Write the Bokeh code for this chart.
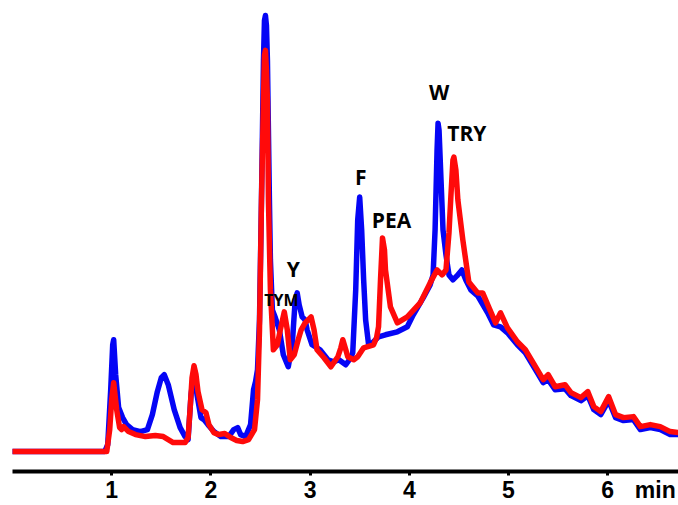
from bokeh.plotting import figure
from bokeh.models import Range1d, FixedTicker, Label
from bokeh.embed import file_html
from bokeh.resources import INLINE

# Retention time (min) and detector response (relative units)
blue_t = [0.00, 0.93, 0.96, 0.99, 1.01, 1.02, 1.04, 1.07, 1.11, 1.15, 1.21, 1.29, 1.36, 1.41, 1.46,
          1.50, 1.53, 1.57, 1.63, 1.69, 1.74, 1.77, 1.80, 1.83, 1.86, 1.90, 1.93, 1.97, 2.03, 2.10,
          2.18, 2.23, 2.27, 2.30, 2.35, 2.40, 2.43, 2.45, 2.47, 2.49, 2.51, 2.52, 2.53, 2.54, 2.55,
          2.56, 2.57, 2.58, 2.59, 2.60, 2.62, 2.65, 2.69, 2.73, 2.78, 2.82, 2.85, 2.87, 2.89, 2.92,
          2.95, 2.97, 3.02, 3.10, 3.18, 3.24, 3.29, 3.36, 3.41, 3.43, 3.46, 3.48, 3.50, 3.52, 3.54,
          3.56, 3.59, 3.63, 3.69, 3.76, 3.88, 3.98, 4.04, 4.14, 4.21, 4.24, 4.26, 4.28, 4.29, 4.30,
          4.32, 4.34, 4.37, 4.40, 4.44, 4.48, 4.53, 4.57, 4.62, 4.69, 4.79, 4.85, 4.92, 4.99, 5.09,
          5.17, 5.29, 5.35, 5.40, 5.47, 5.57, 5.63, 5.73, 5.80, 5.86, 5.93, 6.01, 6.08, 6.16, 6.26,
          6.33, 6.43, 6.53, 6.63, 6.71]
blue_signal = [0, 0, 7, 62, 107, 112, 77, 44, 34, 27, 22, 20, 22, 37, 60,
               74, 77, 67, 42, 24, 15, 12, 57, 80, 57, 34, 32, 27, 20, 15,
               15, 22, 24, 17, 15, 27, 62, 70, 82, 132, 252, 322, 392, 432, 437,
               427, 392, 322, 252, 192, 142, 134, 122, 97, 85, 107, 152, 159, 147, 135,
               132, 122, 107, 102, 92, 90, 92, 87, 94, 99, 162, 232, 255, 222, 172,
               132, 107, 109, 115, 117, 120, 125, 137, 154, 167, 177, 222, 302, 329, 322,
               272, 222, 197, 177, 172, 176, 182, 172, 162, 156, 139, 127, 125, 119, 107,
               99, 79, 69, 72, 62, 63, 56, 51, 56, 42, 37, 51, 34, 31, 32,
               22, 24, 22, 17, 17]

red_t = [0.00, 0.95, 0.98, 1.00, 1.02, 1.05, 1.08, 1.10, 1.12, 1.17, 1.24, 1.34, 1.44, 1.52, 1.57,
         1.62, 1.74, 1.77, 1.79, 1.81, 1.83, 1.85, 1.87, 1.91, 1.95, 1.98, 2.03, 2.08, 2.14, 2.20,
         2.26, 2.32, 2.38, 2.44, 2.47, 2.49, 2.51, 2.53, 2.54, 2.55, 2.56, 2.57, 2.58, 2.60, 2.63,
         2.67, 2.70, 2.74, 2.77, 2.80, 2.84, 2.88, 2.91, 2.95, 2.98, 3.01, 3.04, 3.07, 3.14, 3.21,
         3.28, 3.31, 3.33, 3.36, 3.38, 3.44, 3.48, 3.54, 3.64, 3.67, 3.69, 3.71, 3.73, 3.75, 3.76,
         3.81, 3.88, 3.98, 4.11, 4.21, 4.28, 4.33, 4.37, 4.40, 4.42, 4.44, 4.45, 4.47, 4.49, 4.54,
         4.60, 4.69, 4.74, 4.80, 4.87, 4.92, 4.99, 5.09, 5.17, 5.29, 5.35, 5.40, 5.47, 5.57, 5.63,
         5.73, 5.80, 5.86, 5.93, 6.01, 6.08, 6.16, 6.26, 6.33, 6.43, 6.53, 6.63, 6.71]
red_signal = [0, 0, 22, 52, 69, 42, 24, 22, 25, 20, 17, 15, 16, 15, 12,
              9, 9, 14, 42, 74, 86, 77, 60, 42, 39, 27, 19, 17, 18, 14,
              11, 10, 12, 22, 52, 122, 252, 352, 397, 402, 382, 352, 252, 162, 102,
              107, 122, 140, 122, 92, 97, 112, 122, 129, 132, 135, 122, 102, 94, 85,
              95, 104, 112, 102, 95, 92, 95, 104, 107, 114, 125, 172, 214, 202, 182,
              145, 129, 135, 149, 169, 182, 177, 182, 219, 257, 292, 295, 282, 252, 212,
              170, 159, 159, 145, 129, 139, 124, 110, 102, 82, 72, 77, 65, 67, 59,
              54, 60, 45, 40, 55, 37, 34, 35, 25, 27, 25, 20, 19]

tick_values = [1, 2, 3, 4, 5, 6]
unit_position = 6.48
unit_text = "min"

peak_names = ["W", "TRY", "F", "PEA", "Y", "TYM"]
peak_label_t = [4.30, 4.58, 3.51, 3.82, 2.83, 2.71]
peak_label_signal = [360, 319, 275, 232, 183, 152]
peak_label_size = ["21px", "21px", "21px", "21px", "21px", "16px"]

LABEL_FONT = "'Open Sans', sans-serif"
AXIS_FONT = "'Liberation Sans', Arial, sans-serif"

p = figure(width=678, height=505, output_backend="svg", toolbar_location=None,
           x_range=Range1d(0, 6.714), y_range=Range1d(-20, 452),
           min_border_left=12, min_border_right=0, min_border_top=0, min_border_bottom=33)
p.outline_line_color = None
p.grid.visible = False
p.yaxis.visible = False
p.background_fill_color = "white"
p.border_fill_color = "white"

p.line(blue_t, blue_signal, line_color="#0505F5", line_width=5.5, line_join="round", line_cap="round")
p.line(red_t, red_signal, line_color="#FF0A0A", line_width=5.5, line_join="round", line_cap="round")

ax = p.xaxis[0]
# labelled positions: 1..6 plus the unit text; tick marks only at 1..6 (drawn as minor ticks)
ax.ticker = FixedTicker(ticks=tick_values + [unit_position], minor_ticks=tick_values)
ax.major_label_overrides = {unit_position: unit_text}
ax.axis_line_width = 4
ax.axis_line_color = "black"
ax.major_tick_line_color = None
ax.major_tick_in = 0
ax.major_tick_out = 4
ax.minor_tick_line_color = "black"
ax.minor_tick_line_width = 3
ax.minor_tick_in = 0
ax.minor_tick_out = 4
ax.major_label_text_font = AXIS_FONT
ax.major_label_text_font_style = "bold"
ax.major_label_text_font_size = "23px"
ax.major_label_text_color = "black"
ax.major_label_standoff = 1

for name, t, s, size in zip(peak_names, peak_label_t, peak_label_signal, peak_label_size):
    p.add_layout(Label(x=t, y=s, text=name, text_font=LABEL_FONT, text_font_style="bold",
                       text_font_size=size, text_color="black",
                       text_align="center", text_baseline="middle"))

open("out.html", "w").write(file_html(p, INLINE))
